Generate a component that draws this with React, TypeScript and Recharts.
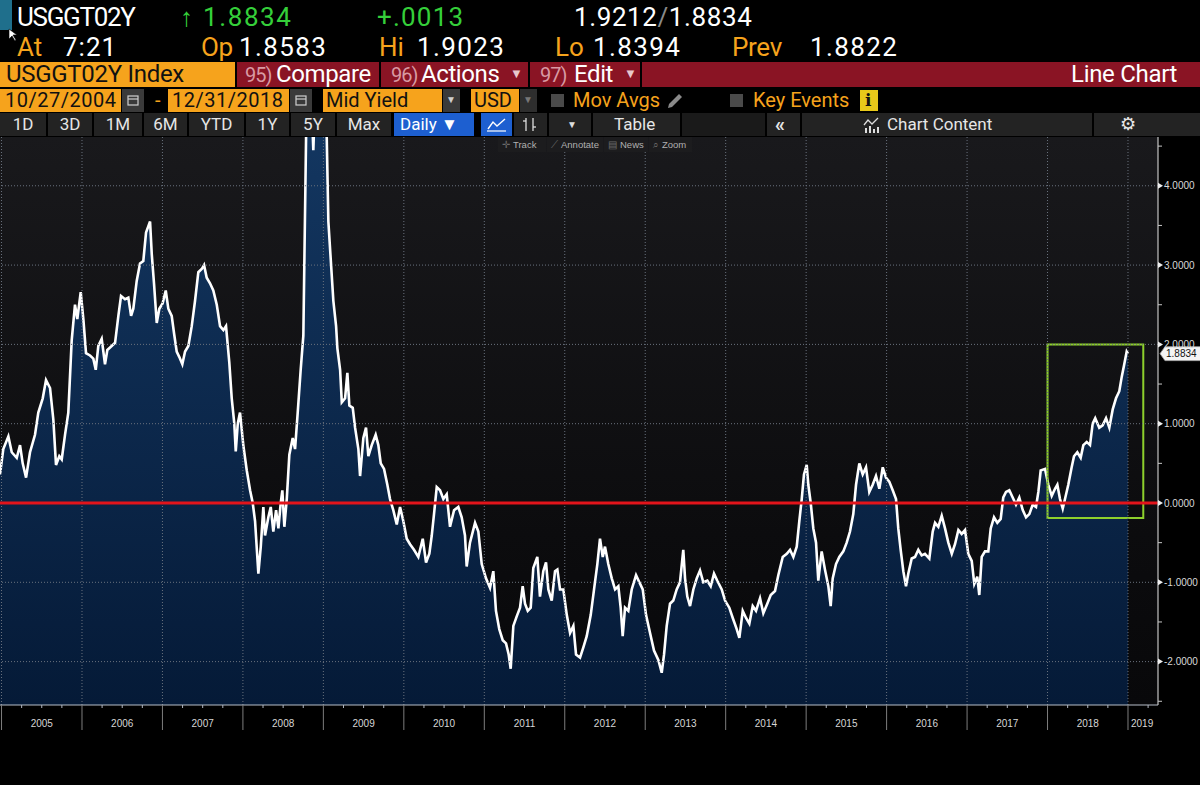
import React from 'react';
import { ComposedChart, Area, XAxis, YAxis, ReferenceLine, ReferenceArea } from 'recharts';

// ---- data: decimal year, 2y TIPS real yield (USGGT02Y) ----
const dates = [
  2004.981, 2005.022, 2005.085, 2005.127, 2005.189, 2005.230, 2005.263, 2005.305, 2005.354, 2005.416,
  2005.457, 2005.512, 2005.553, 2005.603, 2005.644, 2005.677, 2005.718, 2005.748, 2005.789, 2005.830,
  2005.872, 2005.913, 2005.942, 2005.984, 2006.017, 2006.050, 2006.100, 2006.141, 2006.171, 2006.203,
  2006.245, 2006.286, 2006.315, 2006.369, 2006.411, 2006.452, 2006.485, 2006.535, 2006.576, 2006.610,
  2006.638, 2006.680, 2006.721, 2006.762, 2006.796, 2006.846, 2006.867, 2006.895, 2006.929, 2006.961,
  2007.003, 2007.041, 2007.073, 2007.115, 2007.144, 2007.177, 2007.210, 2007.247, 2007.281, 2007.322,
  2007.364, 2007.405, 2007.446, 2007.488, 2007.517, 2007.550, 2007.591, 2007.632, 2007.675, 2007.716,
  2007.757, 2007.790, 2007.831, 2007.861, 2007.893, 2007.911, 2007.936, 2007.964, 2008.005, 2008.048,
  2008.089, 2008.122, 2008.151, 2008.192, 2008.222, 2008.254, 2008.275, 2008.316, 2008.346, 2008.378,
  2008.412, 2008.441, 2008.470, 2008.490, 2008.515, 2008.545, 2008.577, 2008.619, 2008.648, 2008.681,
  2008.718, 2008.751, 2008.793, 2008.834, 2008.875, 2008.921, 2008.983, 2009.042, 2009.062, 2009.096,
  2009.124, 2009.158, 2009.174, 2009.208, 2009.229, 2009.270, 2009.298, 2009.323, 2009.365, 2009.394,
  2009.435, 2009.456, 2009.497, 2009.530, 2009.559, 2009.601, 2009.650, 2009.683, 2009.713, 2009.754,
  2009.795, 2009.828, 2009.869, 2009.912, 2009.953, 2009.994, 2010.036, 2010.077, 2010.126, 2010.180,
  2010.235, 2010.276, 2010.317, 2010.347, 2010.375, 2010.409, 2010.450, 2010.491, 2010.533, 2010.574,
  2010.624, 2010.677, 2010.719, 2010.760, 2010.781, 2010.822, 2010.885, 2010.926, 2010.968, 2011.021,
  2011.071, 2011.112, 2011.145, 2011.186, 2011.229, 2011.270, 2011.303, 2011.328, 2011.361, 2011.403,
  2011.444, 2011.477, 2011.506, 2011.540, 2011.577, 2011.609, 2011.659, 2011.692, 2011.733, 2011.767,
  2011.796, 2011.838, 2011.879, 2011.908, 2011.941, 2011.982, 2012.025, 2012.066, 2012.107, 2012.140,
  2012.190, 2012.231, 2012.273, 2012.323, 2012.364, 2012.405, 2012.438, 2012.472, 2012.500, 2012.541,
  2012.584, 2012.625, 2012.666, 2012.695, 2012.720, 2012.749, 2012.790, 2012.832, 2012.886, 2012.927,
  2012.969, 2013.010, 2013.060, 2013.109, 2013.163, 2013.205, 2013.234, 2013.267, 2013.308, 2013.349,
  2013.391, 2013.432, 2013.473, 2013.495, 2013.523, 2013.557, 2013.598, 2013.640, 2013.681, 2013.722,
  2013.772, 2013.814, 2013.855, 2013.896, 2013.951, 2013.992, 2014.045, 2014.088, 2014.137, 2014.170,
  2014.212, 2014.253, 2014.294, 2014.336, 2014.377, 2014.427, 2014.468, 2014.517, 2014.560, 2014.613,
  2014.654, 2014.709, 2014.759, 2014.800, 2014.841, 2014.883, 2014.915, 2014.945, 2014.973, 2015.007,
  2015.027, 2015.057, 2015.089, 2015.123, 2015.151, 2015.193, 2015.234, 2015.276, 2015.305, 2015.330,
  2015.371, 2015.412, 2015.462, 2015.504, 2015.545, 2015.586, 2015.620, 2015.661, 2015.703, 2015.744,
  2015.785, 2015.827, 2015.868, 2015.910, 2015.952, 2015.992, 2016.033, 2016.076, 2016.117, 2016.145,
  2016.175, 2016.208, 2016.241, 2016.270, 2016.312, 2016.353, 2016.394, 2016.436, 2016.477, 2016.531,
  2016.573, 2016.602, 2016.643, 2016.685, 2016.726, 2016.767, 2016.810, 2016.850, 2016.892, 2016.933,
  2016.975, 2017.015, 2017.058, 2017.090, 2017.127, 2017.152, 2017.182, 2017.223, 2017.264, 2017.294,
  2017.335, 2017.376, 2017.418, 2017.450, 2017.484, 2017.525, 2017.567, 2017.608, 2017.649, 2017.692,
  2017.733, 2017.774, 2017.816, 2017.857, 2017.886, 2017.915, 2017.969, 2018.010, 2018.052, 2018.093,
  2018.122, 2018.155, 2018.189, 2018.217, 2018.258, 2018.300, 2018.329, 2018.370, 2018.412, 2018.445,
  2018.487, 2018.528, 2018.561, 2018.593, 2018.643, 2018.685, 2018.727, 2018.768, 2018.810, 2018.851,
  2018.892, 2018.922, 2018.950, 2018.984, 2019.000,
];

const yields = [
  0.36, 0.68, 0.84, 0.64, 0.57, 0.73, 0.50, 0.32, 0.64, 0.86,
  1.14, 1.32, 1.55, 1.45, 1.05, 0.48, 0.59, 0.55, 0.86, 1.14,
  2.05, 2.50, 2.32, 2.66, 2.32, 1.89, 1.86, 1.82, 1.68, 1.98,
  2.07, 1.75, 1.93, 1.98, 2.02, 2.36, 2.61, 2.57, 2.59, 2.36,
  2.45, 2.80, 3.02, 3.05, 3.41, 3.55, 3.14, 2.77, 2.27, 2.45,
  2.52, 2.68, 2.45, 2.36, 2.14, 1.91, 1.84, 1.75, 1.91, 1.98,
  2.23, 2.55, 2.91, 2.95, 3.00, 2.84, 2.77, 2.68, 2.50, 2.23,
  2.18, 2.23, 1.77, 1.32, 1.00, 0.65, 1.00, 1.14, 0.73, 0.41,
  0.16, 0.00, -0.23, -0.89, -0.55, -0.05, -0.41, -0.18, -0.05, -0.36,
  -0.09, -0.32, 0.00, 0.16, -0.30, 0.05, 0.61, 0.82, 0.68, 1.14,
  1.68, 2.11, 5.20, 5.60, 4.45, 5.80, 5.60, 4.60, 3.55, 3.00,
  2.55, 2.23, 1.95, 1.68, 1.27, 1.32, 1.64, 1.23, 1.20, 0.95,
  0.68, 0.34, 0.82, 0.95, 0.59, 0.73, 0.86, 0.73, 0.50, 0.43,
  0.23, 0.05, -0.09, -0.27, -0.05, -0.23, -0.45, -0.52, -0.59, -0.68,
  -0.45, -0.75, -0.64, -0.41, -0.14, 0.20, 0.16, 0.05, 0.11, -0.30,
  -0.09, -0.05, -0.18, -0.41, -0.80, -0.50, -0.25, -0.36, -0.77, -0.95,
  -1.07, -0.86, -1.36, -1.59, -1.73, -1.77, -1.91, -2.09, -1.55, -1.43,
  -1.32, -1.05, -1.27, -1.36, -1.32, -0.82, -0.68, -1.18, -0.86, -0.75,
  -1.09, -1.23, -0.86, -0.84, -1.09, -1.09, -1.41, -1.64, -1.55, -1.91,
  -1.95, -1.82, -1.68, -1.41, -1.09, -0.77, -0.45, -0.68, -0.55, -0.77,
  -0.95, -1.09, -1.05, -1.32, -1.68, -1.32, -1.36, -1.09, -0.91, -1.00,
  -1.09, -1.41, -1.64, -1.86, -1.98, -2.14, -1.91, -1.55, -1.27, -1.23,
  -1.09, -1.00, -0.59, -0.95, -1.18, -1.30, -1.09, -0.95, -0.85, -1.00,
  -0.98, -1.05, -0.89, -0.98, -1.09, -1.23, -1.32, -1.45, -1.59, -1.70,
  -1.36, -1.45, -1.52, -1.30, -1.36, -1.20, -1.39, -1.27, -1.16, -1.11,
  -0.91, -0.68, -0.64, -0.59, -0.68, -0.55, -0.23, 0.05, 0.36, 0.48,
  0.23, 0.00, -0.32, -0.50, -0.98, -0.61, -0.84, -1.05, -1.30, -0.95,
  -0.77, -0.68, -0.61, -0.50, -0.36, -0.14, 0.23, 0.50, 0.36, 0.45,
  0.14, 0.23, 0.34, 0.18, 0.45, 0.32, 0.27, 0.16, 0.05, -0.32,
  -0.59, -0.86, -1.05, -0.89, -0.70, -0.68, -0.59, -0.66, -0.64, -0.70,
  -0.36, -0.25, -0.30, -0.16, -0.32, -0.50, -0.64, -0.52, -0.34, -0.39,
  -0.34, -0.64, -0.73, -1.02, -0.93, -1.16, -0.68, -0.61, -0.61, -0.32,
  -0.18, -0.25, -0.20, 0.07, 0.14, 0.16, 0.07, -0.02, 0.07, -0.09,
  -0.18, -0.14, -0.02, -0.05, 0.14, 0.41, 0.43, 0.23, 0.09, 0.18,
  0.23, 0.05, -0.07, 0.05, 0.23, 0.45, 0.59, 0.64, 0.57, 0.73,
  0.77, 0.73, 1.00, 1.07, 0.95, 0.98, 1.07, 0.95, 1.18, 1.32,
  1.41, 1.59, 1.73, 1.91, 1.8834,
];

const yearTicks = [2005, 2006, 2007, 2008, 2009, 2010, 2011, 2012, 2013, 2014, 2015, 2016, 2017, 2018, 2019];
const yTicks = [-2.5, -2, -1.5, -1, -0.5, 0, 0.5, 1, 1.5, 2, 2.5, 3, 3.5, 4, 4.5];
const gridYValues = [-2, -1, 1, 2, 3, 4];
const lastPrice = 1.8834;
const highlightX = [2018.0, 2019.19];
const highlightY = [-0.19, 2.0];
const xDomain = [2004.981, 2019.373];
const yDomain = [-2.547, 4.615];

const data = dates.map((t, i) => ({ t, v: yields[i] }));

const CHART_W = 1200;
const CHART_H = 600;
const Y_AXIS_W = 42;
const PLOT_W = CHART_W - Y_AXIS_W;
const yearPx = PLOT_W / (xDomain[1] - xDomain[0]);

const ORANGE = '#f6a31c';
const GREEN = '#35cf3a';
const BARRED = '#8a1424';
const HF = "Roboto, 'Noto Sans', sans-serif";
const AF = "'Liberation Sans', Arial, sans-serif";
const GRID = '#6a727e';

function XTick(props: any) {
  const { x, y, payload } = props;
  const yr = payload.value;
  const last = yr === yearTicks[yearTicks.length - 1];
  const quarters = [1, 2, 3].map((k) => x + (k * yearPx) / 4).filter((qx) => qx < PLOT_W);
  return (
    <g>
      <line x1={x} x2={x} y1={y} y2={y + 25} stroke="#7d7d7d" strokeWidth={1} />
      {quarters.map((qx, i) => (
        <line key={i} x1={qx} x2={qx} y1={y} y2={y + 3} stroke="#b0b6c0" strokeWidth={1} />
      ))}
      <text
        x={last ? x + 3 : x + yearPx / 2}
        y={y + 22}
        textAnchor={last ? 'start' : 'middle'}
        fill="#d6d6d6"
        fontSize={10}
        fontFamily={AF}
      >
        {yr}
      </text>
    </g>
  );
}

function YTick(props: any) {
  const { x, y, payload } = props;
  const v = payload.value;
  const major = Math.abs(v - Math.round(v)) < 1e-9;
  if (!major) return <line x1={x} x2={x + 4} y1={y} y2={y} stroke="#c8c8c8" strokeWidth={1} />;
  return (
    <g>
      <path d={`M${x} ${y - 3} L${x + 5} ${y} L${x} ${y + 3} Z`} fill="#eeeeee" />
      <text x={x + 6} y={y} dy="0.35em" fill="#d8d8d8" fontSize={10} fontFamily={AF}>
        {v.toFixed(4)}
      </text>
    </g>
  );
}

function PriceTag(props: any) {
  const vb = props.viewBox || {};
  const left = (vb.x || 0) + (vb.width || 0) + 2;
  const y = vb.y || 0;
  return (
    <g>
      <path
        d={`M${left} ${y} L${left + 5} ${y - 7} H${left + 42} V${y + 7} H${left + 5} Z`}
        fill="#f4f4f4"
        stroke="#9a9a9a"
        strokeWidth={0.8}
      />
      <text x={left + 6} y={y} dy="0.35em" fontSize={10} fill="#111" fontFamily={AF}>
        {lastPrice.toFixed(4)}
      </text>
    </g>
  );
}

function T(p: { x: number; top: number; size: number; color?: string; ls?: number; children: any; family?: string; weight?: number }) {
  return (
    <div
      style={{
        position: 'absolute',
        left: p.x,
        top: p.top,
        fontSize: p.size,
        lineHeight: `${p.size}px`,
        color: p.color || '#fff',
        letterSpacing: p.ls || 0,
        fontFamily: p.family || HF,
        fontWeight: p.weight || 400,
        whiteSpace: 'nowrap',
      }}
    >
      {p.children}
    </div>
  );
}

function Box(p: { x: number; y: number; w: number; h: number; bg: string; children?: any; border?: string }) {
  return (
    <div
      style={{
        position: 'absolute',
        left: p.x,
        top: p.y,
        width: p.w,
        height: p.h,
        background: p.bg,
        border: p.border,
        boxSizing: 'border-box',
      }}
    >
      {p.children}
    </div>
  );
}

function CalIcon({ x }: { x: number }) {
  return (
    <Box x={x} y={89} w={22} h={23} bg="#3a3a3a">
      <svg width={22} height={23} style={{ position: 'absolute', left: 0, top: 0 }}>
        <rect x={6} y={7} width={10} height={9} fill="none" stroke="#cfcfcf" strokeWidth={1.2} />
        <line x1={6} x2={16} y1={10} y2={10} stroke="#cfcfcf" strokeWidth={1.2} />
      </svg>
    </Box>
  );
}

const toolbarButtons = [
  { x: 0, w: 46, label: '1D' },
  { x: 48, w: 44, label: '3D' },
  { x: 94, w: 48, label: '1M' },
  { x: 144, w: 43, label: '6M' },
  { x: 189, w: 55, label: 'YTD' },
  { x: 246, w: 43, label: '1Y' },
  { x: 291, w: 44, label: '5Y' },
  { x: 337, w: 54, label: 'Max' },
];

function Header() {
  return (
    <>
      {/* Row 1 */}
      <Box x={0} y={0} w={12} h={30} bg="#1f6f8c" />
      <svg width={10} height={14} style={{ position: 'absolute', left: 8, top: 28 }}>
        <path d="M1 1 L1 11 L4 8 L7 13 L8 12 L5 7 L9 7 Z" fill="#fff" stroke="#000" strokeWidth={0.6} />
      </svg>
      <T x={17} top={4} size={26} ls={-1.3}>USGGT02Y</T>
      <T x={180} top={4} size={26} color={GREEN}>↑</T>
      <T x={203} top={4} size={26} color={GREEN} ls={1.6}>1.8834</T>
      <T x={377} top={4} size={26} color={GREEN} ls={1.2}>+.0013</T>
      <T x={574} top={4} size={26} ls={0.6}>
        1.9212<span style={{ color: '#8a8a8a' }}>/</span>1.8834
      </T>
      {/* Row 2 */}
      <T x={17} top={34} size={26} color={ORANGE}>At</T>
      <T x={63} top={34} size={26} ls={1}>7:21</T>
      <T x={201} top={34} size={26} color={ORANGE} ls={-0.5}>Op</T>
      <T x={239} top={34} size={26} ls={1.4}>1.8583</T>
      <T x={379} top={34} size={26} color={ORANGE}>Hi</T>
      <T x={417} top={34} size={26} ls={1.4}>1.9023</T>
      <T x={555} top={34} size={26} color={ORANGE}>Lo</T>
      <T x={593} top={34} size={26} ls={1.4}>1.8394</T>
      <T x={732} top={34} size={26} color={ORANGE} ls={-0.3}>Prev</T>
      <T x={810} top={34} size={26} ls={1.4}>1.8822</T>
      {/* Row 3 */}
      <Box x={0} y={62} w={235} h={25} bg={ORANGE} />
      <T x={6} top={62} size={24} color="#111" ls={-0.3}>USGGT02Y Index</T>
      <Box x={237} y={62} w={963} h={25} bg={BARRED} />
      <Box x={379} y={62} w={2} h={25} bg="#000" />
      <Box x={528} y={62} w={2} h={25} bg="#000" />
      <Box x={640} y={62} w={2} h={25} bg="#000" />
      <T x={245} top={65} size={20} color="#d89aa3" ls={-1}>95)</T>
      <T x={276} top={62} size={24} ls={-0.4}>Compare</T>
      <T x={391} top={65} size={20} color="#d89aa3" ls={-1}>96)</T>
      <T x={421} top={62} size={24} ls={-0.4}>Actions</T>
      <T x={510} top={67} size={13} color="#e8c8cc">▼</T>
      <T x={540} top={65} size={20} color="#d89aa3" ls={-1}>97)</T>
      <T x={574} top={62} size={24} ls={-0.4}>Edit</T>
      <T x={624} top={67} size={13} color="#e8c8cc">▼</T>
      <T x={1071} top={62} size={24} ls={-0.3}>Line Chart</T>
      {/* Row 4 */}
      <Box x={0} y={89} w={121} h={23} bg={ORANGE} />
      <T x={5} top={90} size={20} color="#111" ls={0.5}>10/27/2004</T>
      <CalIcon x={122} />
      <T x={155} top={90} size={20} color={ORANGE}>-</T>
      <Box x={168} y={89} w={121} h={23} bg={ORANGE} />
      <T x={172} top={90} size={20} color="#111" ls={0.5}>12/31/2018</T>
      <CalIcon x={290} />
      <Box x={323} y={89} w={119} h={23} bg={ORANGE} />
      <T x={326} top={90} size={20} color="#111">Mid Yield</T>
      <Box x={443} y={89} w={17} h={23} bg="#3a3a3a" />
      <T x={446} top={95} size={10} color="#cfcfcf">▼</T>
      <Box x={471} y={89} w={48} h={23} bg={ORANGE} />
      <T x={474} top={90} size={20} color="#111">USD</T>
      <Box x={520} y={89} w={17} h={23} bg="#2e2e2e" />
      <T x={523} top={95} size={10} color="#777">▼</T>
      <Box x={551} y={94} w={13} h={13} bg="#4a4a4a" />
      <T x={573} top={90} size={20} color={ORANGE}>Mov Avgs</T>
      <svg width={20} height={20} style={{ position: 'absolute', left: 665, top: 91 }}>
        <path d="M3 17 L4 13 L14 3 L17 6 L7 16 Z" fill="#8a8a8a" />
      </svg>
      <Box x={730} y={94} w={13} h={13} bg="#4a4a4a" />
      <T x={753} top={90} size={20} color={ORANGE}>Key Events</T>
      <Box x={860} y={90} w={18} h={21} bg="#e8c81a" />
      <T x={865} top={92} size={17} color="#111" weight={700} family="'DejaVu Serif', serif">i</T>
      {/* Row 5 */}
      {toolbarButtons.map((b) => (
        <Box key={b.label} x={b.x} y={113} w={b.w} h={23} bg="#232323">
          <div
            style={{
              position: 'absolute',
              left: 0,
              width: b.w,
              top: 3,
              textAlign: 'center',
              fontFamily: HF,
              fontSize: 17,
              lineHeight: '17px',
              color: '#e6e6e6',
            }}
          >
            {b.label}
          </div>
        </Box>
      ))}
      <Box x={394} y={113} w={80} h={23} bg="#1d5fd0" />
      <T x={400} top={116} size={17}>Daily ▼</T>
      <Box x={481} y={113} w={31} h={23} bg="#1d5fd0" />
      <svg width={31} height={23} style={{ position: 'absolute', left: 481, top: 113 }}>
        <path d="M7 16 L12 9 L16 13 L24 6" fill="none" stroke="#fff" strokeWidth={1.4} />
        <line x1={6} x2={25} y1={18} y2={18} stroke="#fff" strokeWidth={1.2} />
      </svg>
      <Box x={514} y={113} w={33} h={23} bg="#232323" />
      <svg width={33} height={23} style={{ position: 'absolute', left: 514, top: 113 }}>
        <line x1={12} x2={12} y1={5} y2={18} stroke="#ddd" strokeWidth={1.3} />
        <line x1={9} x2={12} y1={8} y2={8} stroke="#ddd" strokeWidth={1.3} />
        <line x1={19} x2={19} y1={5} y2={18} stroke="#ddd" strokeWidth={1.3} />
        <line x1={19} x2={22} y1={14} y2={14} stroke="#ddd" strokeWidth={1.3} />
      </svg>
      <Box x={549} y={113} w={42} h={23} bg="#232323" />
      <T x={567} top={120} size={10} color="#ddd">▼</T>
      <Box x={593} y={113} w={87} h={23} bg="#232323" />
      <T x={614} top={116} size={17} color="#e6e6e6">Table</T>
      <Box x={682} y={113} w={83} h={23} bg="#1a1a1a" />
      <Box x={767} y={113} w={33} h={23} bg="#232323" />
      <T x={775} top={114} size={20} color="#e6e6e6" weight={700}>«</T>
      <Box x={802} y={113} w={290} h={23} bg="#232323" />
      <svg width={18} height={18} style={{ position: 'absolute', left: 862, top: 116 }}>
        <path d="M2 9 L6 4 L10 8 L16 2" fill="none" stroke="#ddd" strokeWidth={1.3} />
        <rect x={3} y={12} width={2} height={5} fill="#ddd" />
        <rect x={7} y={10} width={2} height={7} fill="#ddd" />
        <rect x={11} y={13} width={2} height={4} fill="#ddd" />
        <rect x={15} y={11} width={2} height={6} fill="#ddd" />
      </svg>
      <T x={887} top={116} size={17} color="#e6e6e6">Chart Content</T>
      <Box x={1094} y={113} w={106} h={23} bg="#232323" />
      <T x={1120} top={115} size={18} color="#e6e6e6">⚙</T>
    </>
  );
}

function ChartToolbar() {
  const items = [
    { x: 498, w: 48, icon: '✛', label: 'Track' },
    { x: 547, w: 56, icon: '⟋', label: 'Annotate' },
    { x: 604, w: 44, icon: '▤', label: 'News' },
    { x: 649, w: 43, icon: '⌕', label: 'Zoom' },
  ];
  return (
    <>
      {items.map((it) => (
        <div
          key={it.label}
          style={{
            position: 'absolute',
            left: it.x,
            top: 137,
            width: it.w,
            height: 15,
            background: '#1c1c1e',
            color: '#b0b0b0',
            fontFamily: AF,
            fontSize: 9.5,
            lineHeight: '15px',
            whiteSpace: 'nowrap',
            paddingLeft: 4,
            boxSizing: 'border-box',
            zIndex: 5,
          }}
        >
          <span style={{ color: '#6a6a6a', marginRight: 3 }}>{it.icon}</span>
          {it.label}
        </div>
      ))}
    </>
  );
}

export default function App() {
  return (
    <div
      style={{
        position: 'fixed',
        left: 0,
        top: 0,
        width: 1200,
        height: 785,
        background: '#000',
        overflow: 'hidden',
      }}
    >
      <Header />
      {/* plot background */}
      <div
        style={{
          position: 'absolute',
          left: 0,
          top: 137,
          width: PLOT_W,
          height: 568,
          background: 'linear-gradient(#19191c, #0c0c0e 70%, #08080a)',
        }}
      />
      <div style={{ position: 'absolute', left: 0, top: 137 }}>
        <ComposedChart
          width={CHART_W}
          height={CHART_H}
          data={data}
          margin={{ top: 0, right: 0, bottom: 0, left: 0 }}
        >
          <defs>
            <linearGradient id="fillGrad" gradientUnits="userSpaceOnUse" x1={0} y1={0} x2={0} y2={568}>
              <stop offset="0%" stopColor="#133660" />
              <stop offset="100%" stopColor="#051a37" />
            </linearGradient>
          </defs>
          <XAxis
            dataKey="t"
            type="number"
            domain={xDomain}
            allowDataOverflow
            ticks={yearTicks}
            interval={0}
            height={32}
            tickSize={0}
            tickMargin={0}
            tick={<XTick />}
            axisLine={{ stroke: '#b7bec9', strokeWidth: 1 }}
            tickLine={false}
          />
          <YAxis
            orientation="right"
            type="number"
            domain={yDomain}
            allowDataOverflow
            ticks={yTicks}
            interval={0}
            width={Y_AXIS_W}
            tickSize={0}
            tickMargin={0}
            tick={<YTick />}
            axisLine={{ stroke: '#c4c4c4', strokeWidth: 1.2 }}
            tickLine={false}
          />
          <Area
            type="linear"
            dataKey="v"
            baseValue="dataMin"
            stroke="#ffffff"
            strokeWidth={2.6}
            fill="url(#fillGrad)"
            fillOpacity={1}
            isAnimationActive={false}
            dot={false}
            activeDot={false}
          />
          {yearTicks.map((yr) => (
            <ReferenceLine key={`gx${yr}`} x={yr} stroke={GRID} strokeDasharray="1 2" strokeWidth={1} />
          ))}
          {gridYValues.map((g) => (
            <ReferenceLine key={`gy${g}`} y={g} stroke={GRID} strokeDasharray="1 2" strokeWidth={1} />
          ))}
          <ReferenceLine y={0} stroke="#e3141b" strokeWidth={3} />
          <ReferenceArea
            x1={highlightX[0]}
            x2={highlightX[1]}
            y1={highlightY[0]}
            y2={highlightY[1]}
            fill="none"
            fillOpacity={0}
            stroke="#8dd02c"
            strokeWidth={2}
          />
          <ReferenceLine y={lastPrice} stroke="none" label={<PriceTag />} />
        </ComposedChart>
      </div>
      <ChartToolbar />
    </div>
  );
}
